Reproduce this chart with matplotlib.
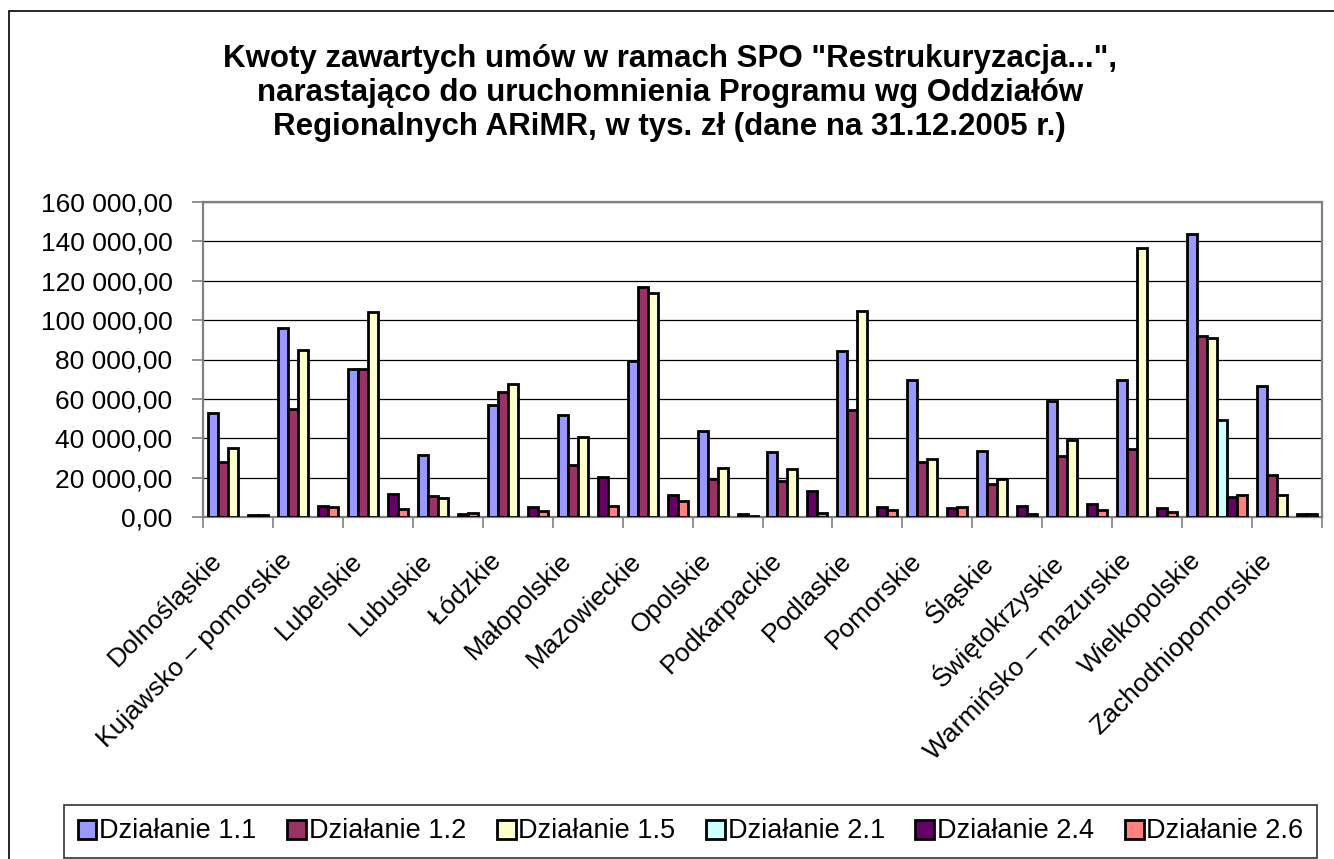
import numpy as np
import matplotlib
matplotlib.use("Agg")
import matplotlib.pyplot as plt
from matplotlib.patches import Rectangle
from matplotlib.ticker import FuncFormatter
from matplotlib.transforms import ScaledTranslation

plt.rcParams["font.family"] = ["Liberation Sans", "DejaVu Sans"]

regions = ["Dolnośląskie", "Kujawsko – pomorskie", "Lubelskie", "Lubuskie",
           "Łódzkie", "Małopolskie", "Mazowieckie", "Opolskie", "Podkarpackie",
           "Podlaskie", "Pomorskie", "Śląskie", "Świętokrzyskie",
           "Warmińsko – mazurskie", "Wielkopolskie", "Zachodniopomorskie"]

series_names = ["Działanie 1.1", "Działanie 1.2", "Działanie 1.5",
                "Działanie 2.1", "Działanie 2.4", "Działanie 2.6"]

# thousands of PLN
d11 = [52700, 95900, 75000, 31600, 57000, 52000, 79300, 43900,
       33200, 84500, 69700, 33300, 58700, 69700, 144000, 66700]
d12 = [28100, 54900, 75300, 10700, 63600, 26400, 116800, 19400,
       18500, 54600, 28100, 16800, 31000, 34700, 92000, 21300]
d15 = [35000, 84700, 103900, 9700, 67500, 40500, 113600, 24800,
       24500, 104600, 29600, 19100, 39000, 136700, 90800, 11100]
d21 = [0, 0, 0, 0, 0, 0, 0, 0, 0, 0, 0, 0, 0, 0, 49500, 0]
d24 = [800, 5600, 11600, 1700, 5100, 20400, 11100, 1400,
       13100, 5300, 4800, 5400, 6600, 4400, 10200, 1300]
d26 = [1200, 5300, 3900, 1900, 2900, 5800, 8000, 500,
       2000, 3400, 5100, 1700, 3700, 2600, 11100, 1300]

colors = ["#9999FF", "#993366", "#FFFFCC", "#CCFFFF", "#660066", "#FF8080"]

fig = plt.figure(figsize=(13.34, 8.59), dpi=100)
ax = fig.add_axes([203 / 1334, 1 - 517 / 859, 1119 / 1334, 315 / 859])

x = np.arange(len(regions))
w = 1 / 7
all_series = [d11, d12, d15, d21, d24, d26]
for j, (vals, c, name) in enumerate(zip(all_series, colors, series_names)):
    vals = np.array(vals, dtype=float)
    keep = vals > 0
    ax.bar(x[keep] + (j - 2.5) * w, vals[keep], width=w, color=c,
           edgecolor="black", linewidth=2, zorder=3)
    # proxy for the legend
    ax.bar([0], [0], width=0, color=c, edgecolor="black", linewidth=2,
           label=name)

ax.set_xlim(-0.5, len(regions) - 0.5)
ax.set_ylim(0, 160000)
ax.set_yticks(np.arange(0, 160001, 20000))
ax.yaxis.set_major_formatter(FuncFormatter(
    lambda v, p: f"{v:,.2f}".replace(",", " ").replace(".", ",")))
ax.grid(axis="y", color="black", linewidth=0.9, zorder=0)
for s in ax.spines.values():
    s.set_color("#808080")
    s.set_linewidth(1.6)

ax.tick_params(axis="y", labelsize=19, length=8, width=1.2, color="#808080",
               pad=14)
ax.set_xticks(x)
ax.set_xticklabels(regions, rotation=45, ha="right", va="top",
                   rotation_mode="anchor", fontsize=19)
ax.tick_params(axis="x", which="major", length=0, pad=14)
shift = ScaledTranslation(-28 / 100, -12 / 100, fig.dpi_scale_trans)
for lab in ax.get_xticklabels():
    lab.set_transform(lab.get_transform() + shift)
ax.set_xticks(np.arange(-0.5, len(regions)), minor=True)
ax.tick_params(axis="x", which="minor", length=8, width=1.2, color="#808080")

fig.text(0.502, 0.949,
         "Kwoty zawartych umów w ramach SPO \"Restrukuryzacja...\",\n"
         "narastająco do uruchomnienia Programu wg Oddziałów\n"
         "Regionalnych ARiMR, w tys. zł (dane na 31.12.2005 r.)",
         ha="center", va="top", fontsize=22.5, fontweight="bold",
         linespacing=1.18)

# outer chart frame
fig.patches.append(Rectangle((9 / 1334, -0.05), 1.1, 1 - 11 / 859 + 0.05,
                             transform=fig.transFigure, fill=False,
                             edgecolor="black", linewidth=1.2))

leg = fig.legend(loc="center", ncol=6, mode="expand",
                 bbox_to_anchor=(64 / 1334, 1 - 857 / 859, 1253 / 1334, 51 / 859),
                 fontsize=19.5, handlelength=0.7, handleheight=0.7,
                 handletextpad=0.1, borderaxespad=0, borderpad=0.5,
                 frameon=True, fancybox=False, edgecolor="black")
leg.get_frame().set_linewidth(1.2)

fig.savefig("out.png", dpi=100)
